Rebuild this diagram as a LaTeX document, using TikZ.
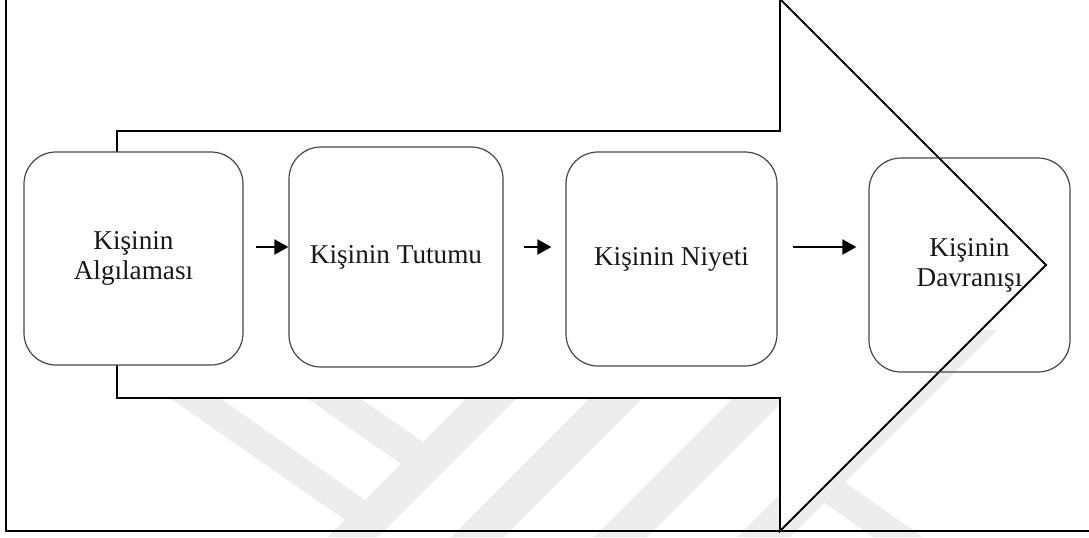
\documentclass[tikz,border=0pt]{standalone}
\usepackage{fontspec}
\setmainfont{Liberation Serif}
\usetikzlibrary{calc,arrows.meta}
\begin{document}
\begin{tikzpicture}[x=0.5pt,y=-0.5pt,
  stage/.style={draw=black!72, line width=0.6pt, rounded corners=16pt,
    fill=white, align=center, inner sep=0pt, text=black!90,
    font=\fontsize{13.6pt}{15pt}\selectfont},
  link/.style={-{Triangle[length=7pt,width=7.5pt]}, line width=1pt},
  wmband/.style={fill=black!7, draw=none},
  frameline/.style={line width=1.2pt},
  bigarrow/.style={line width=0.9pt, fill=white, line join=miter}]
\useasboundingbox (0,0) rectangle (1089,537);

% faint background emblem
\begin{scope}
  \clip (0,0) rectangle (1089,537);
  \fill[wmband] (535,330) -- (585,330) -- (378,537) -- (328,537) -- cycle;
  \fill[wmband] (144,380) -- (194,380) -- (365,500) -- (345,520) -- cycle;
  \fill[wmband] (281,380) -- (334,380) -- (423,442) -- (401,464) -- cycle;
  \fill[wmband] (658,330) -- (711,330) -- (504,537) -- (451,537) -- cycle;
  \fill[wmband] (801,330) -- (854,330) -- (647,537) -- (594,537) -- cycle;
  \fill[wmband] (944,330) -- (997,330) -- (790,537) -- (737,537) -- cycle;
  \fill[wmband] (780,437) -- (923,537) -- (873,537) -- (780,472) -- cycle;
\end{scope}

% open frame: left side and bottom
\draw[frameline] (6,-2) -- (6,531) -- (1092,531);

% large block arrow behind the stages
\draw[bigarrow] (117,131) -- (780,131) -- (780,-1) -- (1046,265)
  -- (780,531) -- (780,398) -- (117,398) -- cycle;

% stages
\node[stage, minimum width=109.5pt, minimum height=106.5pt] (b1)
  at (133.5,258.5) {Kişinin\\Algılaması};
\node[stage, minimum width=107pt, minimum height=110pt] (b2)
  at (396,257) {Kişinin Tutumu};
\node[stage, minimum width=105.5pt, minimum height=107pt] (b3)
  at (671.5,259) {Kişinin Niyeti};
\node[stage, fill=none, minimum width=100.5pt, minimum height=107pt] (b4)
  at (969.5,265) {Kişinin\\Davranışı};

% connectors
\draw[link] ($(b1.east)+(12,-11.5)$) -- ($(b2.west)+(0,-10)$);
\draw[link] ($(b2.east)+(20,-10)$) -- ($(b3.west)+(-14,-12)$);
\draw[link] ($(b3.east)+(15,-12)$) -- ($(b4.west)+(-12,-18)$);
\end{tikzpicture}
\end{document}
